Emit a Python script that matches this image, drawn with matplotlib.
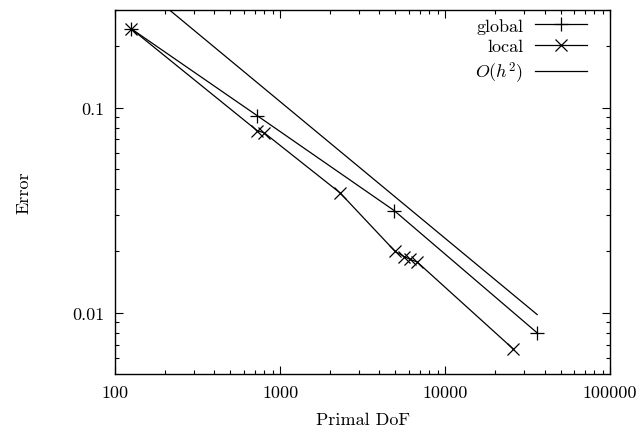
import numpy as np
import matplotlib
matplotlib.use("Agg")
import matplotlib.pyplot as plt
from matplotlib.ticker import FixedLocator, FixedFormatter, LogLocator, NullFormatter

plt.rcParams.update({
    "font.family": "cmr10",
    "mathtext.fontset": "cm",
    "axes.formatter.use_mathtext": True,
    "font.size": 13,
    "axes.linewidth": 1.0,
})

# data
global_dof = [125, 727, 4910, 36100]
global_err = [0.243, 0.0914, 0.0315, 0.00798]

local_dof = [125, 727, 800, 2310, 4980, 5650, 6140, 6760, 25800]
local_err = [0.243, 0.0772, 0.0755, 0.0384, 0.0199, 0.0188, 0.0182, 0.0177, 0.00667]

ref_dof = [100, 36100]
ref_err = [0.497, 0.0098]

xticks = [100, 1000, 10000, 100000]
xlabels = ["100", "1000", "10000", "100000"]
yticks = [0.01, 0.1]
ylabels = ["0.01", "0.1"]

fig = plt.figure(figsize=(6.43, 4.35), dpi=100)
ax = fig.add_axes([0.179, 0.138, 0.770, 0.837])

ax.plot(global_dof, global_err, '-', color='black', lw=0.9,
        marker='+', ms=10, mew=0.9, label='global')
ax.plot(local_dof, local_err, '-', color='black', lw=0.9,
        marker='x', ms=8, mew=0.9, label='local')
ax.plot(ref_dof, ref_err, '-', color='black', lw=0.9, label=r'$O(h^2)$')

ax.set_xscale('log')
ax.set_yscale('log')
ax.set_xlim(100, 100000)
ax.set_ylim(0.00503, 0.30)

ax.xaxis.set_major_locator(FixedLocator(xticks))
ax.xaxis.set_major_formatter(FixedFormatter(xlabels))
ax.yaxis.set_major_locator(FixedLocator(yticks))
ax.yaxis.set_major_formatter(FixedFormatter(ylabels))
ax.xaxis.set_minor_locator(LogLocator(base=10, subs=np.arange(2, 10)))
ax.yaxis.set_minor_locator(LogLocator(base=10, subs=np.arange(2, 10)))
ax.xaxis.set_minor_formatter(NullFormatter())
ax.yaxis.set_minor_formatter(NullFormatter())

ax.tick_params(which='both', direction='in', top=True, right=True, width=0.8)
ax.tick_params(which='major', length=6, pad=8)
ax.tick_params(which='minor', length=3)

ax.set_xlabel('Primal DoF', labelpad=8)
ax.set_ylabel('Error', labelpad=29)

leg = ax.legend(loc='upper right', bbox_to_anchor=(0.954, 0.978),
                frameon=False, markerfirst=False,
                handlelength=2.9, handletextpad=0.65, labelspacing=0.28,
                borderpad=0, borderaxespad=0, fontsize=13)

fig.savefig('out.png', dpi=100)
